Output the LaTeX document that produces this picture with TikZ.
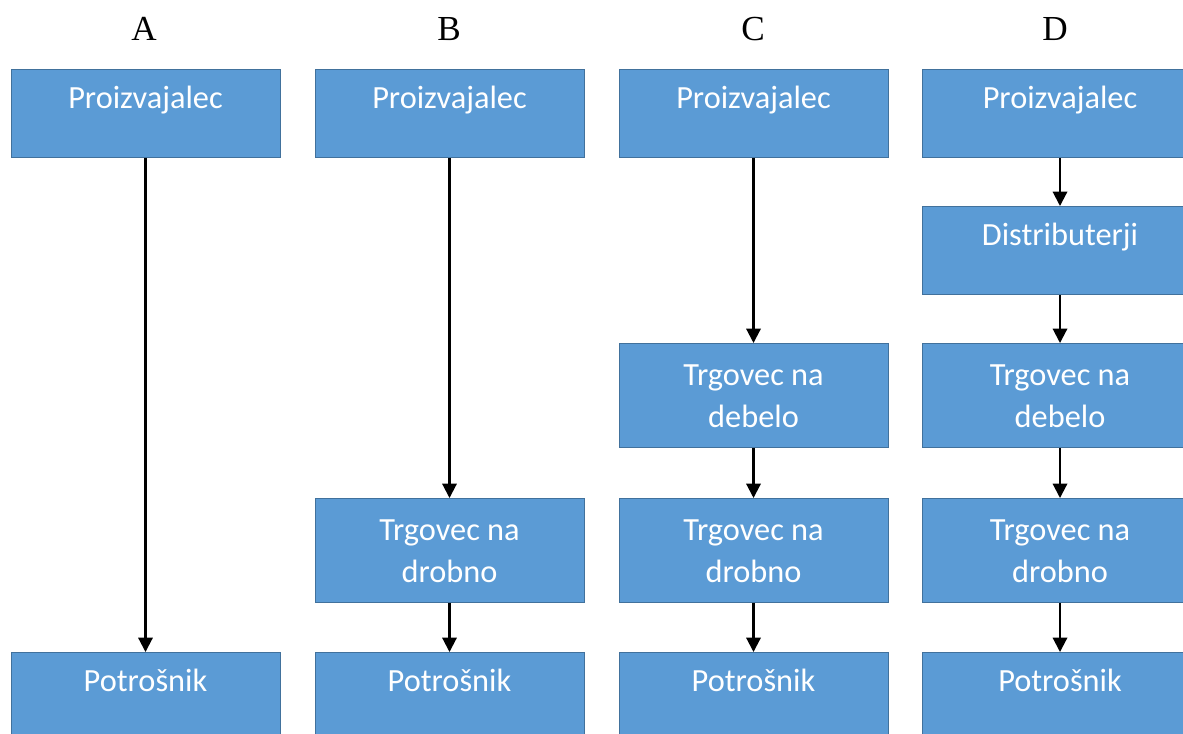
\documentclass[tikz,border=0pt]{standalone}
\usepackage{fontspec}
\setmainfont{Carlito}
\newfontfamily\headfont{Liberation Serif}
\usepackage{xcolor}
\usetikzlibrary{arrows.meta}

\definecolor{boxblue}{HTML}{5B9BD5}
\definecolor{boxline}{HTML}{41719C}

\begin{document}
\begin{tikzpicture}[x=0.025cm, y=-0.025cm,
  box/.style={rectangle, fill=boxblue, draw=boxline, line width=0.6pt, text=white,
    minimum width=6.725cm, inner sep=0pt, anchor=north, align=center,
    font=\fontsize{23}{30}\selectfont},
  one/.style={box, text height=0.975cm, text depth=1.225cm},
  two/.style={box, text height=2.1cm, text depth=0.5cm},
  head/.style={anchor=base, font=\headfont\fontsize{25}{28}\selectfont},
  flow/.style={-{Triangle[width=0.36cm,length=0.36cm]}, line width=1.5pt}]
  \useasboundingbox (0,0) rectangle (1183,733);

  % column A
  \node[head] (headA) at (144,40) {A};
  \node[one] (prodA) at (145.5,69) {Proizvajalec};
  \node[one] (consA) at (145.5,652) {Potrošnik};

  % column B
  \node[head] (headB) at (449,40) {B};
  \node[one] (prodB) at (449.5,69) {Proizvajalec};
  \node[two] (retB) at (449.5,498) {Trgovec na\\drobno};
  \node[one] (consB) at (449.5,652) {Potrošnik};

  % column C
  \node[head] (headC) at (753,40) {C};
  \node[one] (prodC) at (753.5,69) {Proizvajalec};
  \node[two] (whoC) at (753.5,343) {Trgovec na\\debelo};
  \node[two] (retC) at (753.5,498) {Trgovec na\\drobno};
  \node[one] (consC) at (753.5,652) {Potrošnik};

  % column D
  \node[head] (headD) at (1055,40) {D};
  \node[one, minimum width=6.9cm] (prodD) at (1060,69) {Proizvajalec};
  \node[one, minimum width=6.9cm] (distD) at (1060,206) {Distributerji};
  \node[two, minimum width=6.9cm] (whoD) at (1060,343) {Trgovec na\\debelo};
  \node[two, minimum width=6.9cm] (retD) at (1060,498) {Trgovec na\\drobno};
  \node[one, minimum width=6.9cm] (consD) at (1060,652) {Potrošnik};

  \draw[flow] (prodA) -- (consA);
  \draw[flow] (prodB) -- (retB);
  \draw[flow] (retB) -- (consB);
  \draw[flow] (prodC) -- (whoC);
  \draw[flow] (whoC) -- (retC);
  \draw[flow] (retC) -- (consC);
  \draw[flow] (prodD) -- (distD);
  \draw[flow] (distD) -- (whoD);
  \draw[flow] (whoD) -- (retD);
  \draw[flow] (retD) -- (consD);
\end{tikzpicture}
\end{document}
